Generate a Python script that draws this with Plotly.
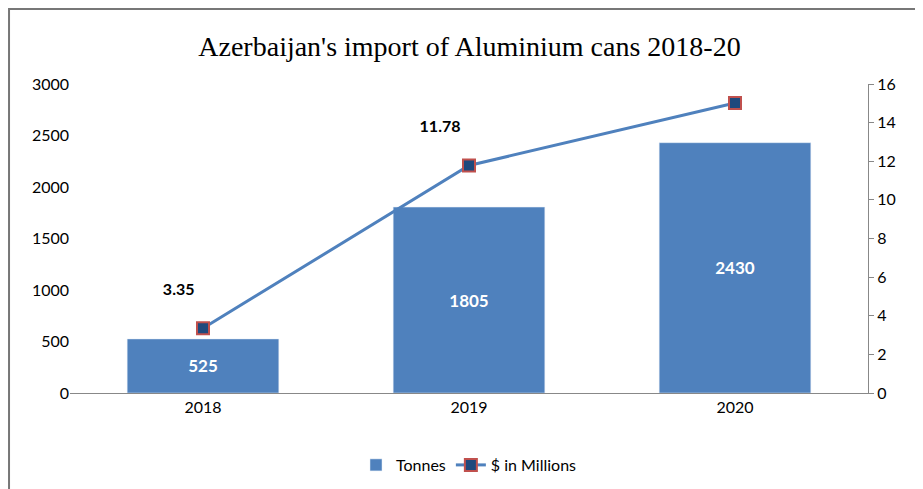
import plotly.graph_objects as go

years = ["2018", "2019", "2020"]
tonnes = [525, 1805, 2430]
usd_millions = [3.35, 11.78, 15.02]

fig = go.Figure()
fig.add_trace(go.Bar(
    x=years, y=tonnes, name="Tonnes", marker_color="#4F81BD", width=0.57,
    text=[f"<b>{v}</b>" for v in tonnes], textposition="inside", insidetextanchor="middle",
    textfont=dict(color="white", size=17, family="Lato"),
))
fig.add_trace(go.Scatter(
    x=years, y=usd_millions, name="$ in Millions", yaxis="y2", mode="lines+markers+text",
    line=dict(color="#4F81BD", width=3),
    marker=dict(symbol="square", size=12, color="#1F497D", line=dict(color="#C0504D", width=2)),
    text=[f"<b>{v:.2f}</b><br> " for v in usd_millions], textposition="top left",
    textfont=dict(color="black", size=16, family="Lato"),
))
fig.update_layout(
    width=923, height=489, paper_bgcolor="white", plot_bgcolor="white",
    margin=dict(l=62, r=63, t=76, b=104, autoexpand=False),
    title=dict(text="Azerbaijan's import of Aluminium cans 2018-20", x=0.5, y=0.922,
               xanchor="center", yanchor="middle", font=dict(family="Liberation Serif", size=28, color="black")),
    font=dict(family="Lato", size=16, color="black"),
    xaxis=dict(showline=True, linecolor="#888", ticks="", showgrid=False, automargin=False),
    yaxis=dict(range=[0, 3000], dtick=500, showgrid=False, showline=False, ticks="", automargin=False),
    yaxis2=dict(range=[0, 16], dtick=2, overlaying="y", side="right", showgrid=False, showline=True,
                linecolor="#888", ticks="outside", ticklen=5, tickcolor="#888", automargin=False),
    legend=dict(orientation="h", x=0.5, xanchor="center", y=-0.233, yanchor="middle", font=dict(size=16)),
    showlegend=True,
    shapes=[dict(type="rect", xref="paper", yref="paper", x0=-0.0764, x1=1.0764, y0=-0.330, y1=1.243,
                 line=dict(color="#777", width=2))],
)
fig.write_html("out.html")
